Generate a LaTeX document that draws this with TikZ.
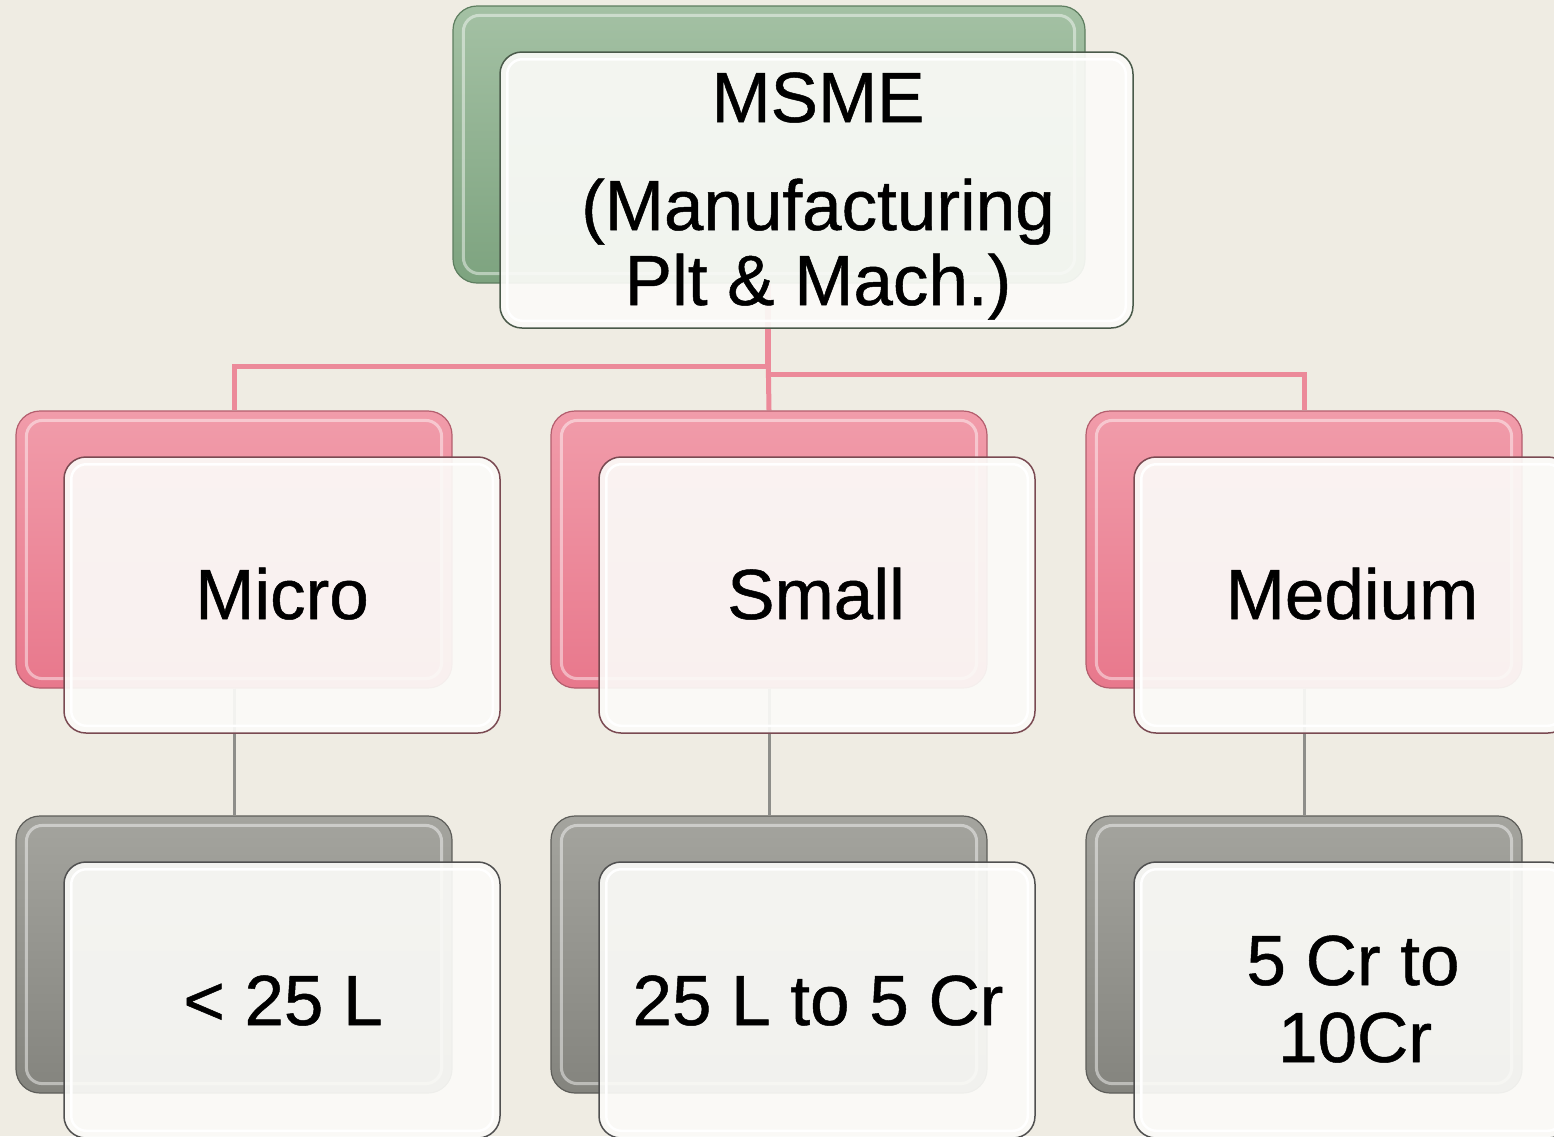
\documentclass[tikz,border=0pt]{standalone}
\usepackage{fontspec}
\setmainfont[FakeBold=0.7]{Liberation Sans}
\pgfdeclarelayer{bglayer}
\pgfdeclarelayer{connlayer}
\pgfsetlayers{bglayer,connlayer,main}
\definecolor{bgcol}{HTML}{EFECE3}
\definecolor{gtop}{HTML}{A4C1A4}
\definecolor{gbot}{HTML}{7DA37F}
\definecolor{gedge}{HTML}{5E7E60}
\definecolor{ptop}{HTML}{F19CAA}
\definecolor{pbot}{HTML}{E8788C}
\definecolor{pedge}{HTML}{B45E6E}
\definecolor{ktop}{HTML}{A4A49E}
\definecolor{kbot}{HTML}{84847E}
\definecolor{kedge}{HTML}{5E5E5A}
\definecolor{frontfill}{HTML}{FBFBF8}
\definecolor{gfedge}{HTML}{4A5A4A}
\definecolor{pfedge}{HTML}{7A4A52}
\definecolor{kfedge}{HTML}{505050}
\definecolor{pinkline}{HTML}{EC8A9A}
\definecolor{grayline}{HTML}{8E8E8A}
\begin{document}
\begin{tikzpicture}[x=1pt,y=-1pt,
  backbox/.style={rectangle, rounded corners=24pt, minimum width=436pt, minimum height=277pt, inner sep=0pt, line width=1.2pt},
  frontbox/.style={rectangle, rounded corners=22pt, minimum width=436pt, minimum height=276pt, inner sep=0pt, line width=1.5pt, fill=frontfill, fill opacity=0.92},
  greenback/.style={backbox, minimum width=632pt, top color=gtop, bottom color=gbot, draw=gedge},
  pinkback/.style={backbox, top color=ptop, bottom color=pbot, draw=pedge},
  grayback/.style={backbox, top color=ktop, bottom color=kbot, draw=kedge},
  greenfront/.style={frontbox, minimum width=633pt, draw=gfedge},
  pinkfront/.style={frontbox, draw=pfedge},
  grayfront/.style={frontbox, draw=kfedge},
  lbl/.style={font=\fontsize{71}{75}\selectfont, anchor=base, inner sep=0pt},
  pinkconn/.style={draw=pinkline, line width=5pt},
  grayconn/.style={draw=grayline, line width=3pt},
  backhi/.style={draw=white, draw opacity=0.45, line width=3pt, rounded corners=16pt},
  fronthi/.style={draw=white, line width=2.5pt, rounded corners=15pt}]
\useasboundingbox (0,0) rectangle (1554,1136);
\begin{pgfonlayer}{bglayer}
\fill[bgcol] (0,0) rectangle (1554,1136);
\end{pgfonlayer}
% back boxes
\node[greenback] (topb) at (769,144.5) {};
\node[pinkback] (mib) at (234,549.5) {};
\node[pinkback] (smb) at (769,549.5) {};
\node[pinkback] (meb) at (1304,549.5) {};
\node[grayback] (b1b) at (234,954.5) {};
\node[grayback] (b2b) at (769,954.5) {};
\node[grayback] (b3b) at (1304,954.5) {};
\foreach \n in {topb,mib,smb,meb,b1b,b2b,b3b}{
  \draw[backhi] ([shift={(11,10)}]\n.north west) rectangle ([shift={(-11,-10)}]\n.south east);
}
% front boxes
\node[greenfront] (topf) at (816.5,190) {};
\node[pinkfront] (mif) at (282,595) {};
\node[pinkfront] (smf) at (817,595) {};
\node[pinkfront] (mef) at (1352,595) {};
\node[grayfront] (b1f) at (282,1000) {};
\node[grayfront] (b2f) at (817,1000) {};
\node[grayfront] (b3f) at (1352,1000) {};
\foreach \n in {topf,mif,smf,mef,b1f,b2f,b3f}{
  \draw[fronthi] ([shift={(8,8)}]\n.north west) rectangle ([shift={(-8,-8)}]\n.south east);
}
% connectors
\begin{pgfonlayer}{connlayer}
\draw[pinkconn] ([xshift=-2pt]topb.south) -- ++(0,83) -| (mib.north);
\draw[pinkconn] ([xshift=-2pt]topb.south) -- (smb.north);
\draw[pinkconn] ([xshift=-1pt]topb.south) -- ++(0,91) -| (meb.north);
\draw[grayconn] (mib.south) -- (b1b.north);
\draw[grayconn] (smb.south) -- (b2b.north);
\draw[grayconn] (meb.south) -- (b3b.north);
\end{pgfonlayer}
% texts
\node[lbl] (t1) at (818,122) {MSME};
\node[lbl] (t2) at (818,230) {(Manufacturing};
\node[lbl] (t3) at (818,305) {Plt \& Mach.)};
\node[lbl] (t4) at (282,619) {Micro};
\node[lbl] (t5) at (816,619) {Small};
\node[lbl] (t6) at (1352,619) {Medium};
\node[lbl] (t7) at (283,1025) {< 25 L};
\node[lbl] (t8) at (818,1025) {25 L to 5 Cr};
\node[lbl] (t9) at (1353,985) {5 Cr to};
\node[lbl] (t10) at (1355,1062) {10Cr};
\end{tikzpicture}
\end{document}
